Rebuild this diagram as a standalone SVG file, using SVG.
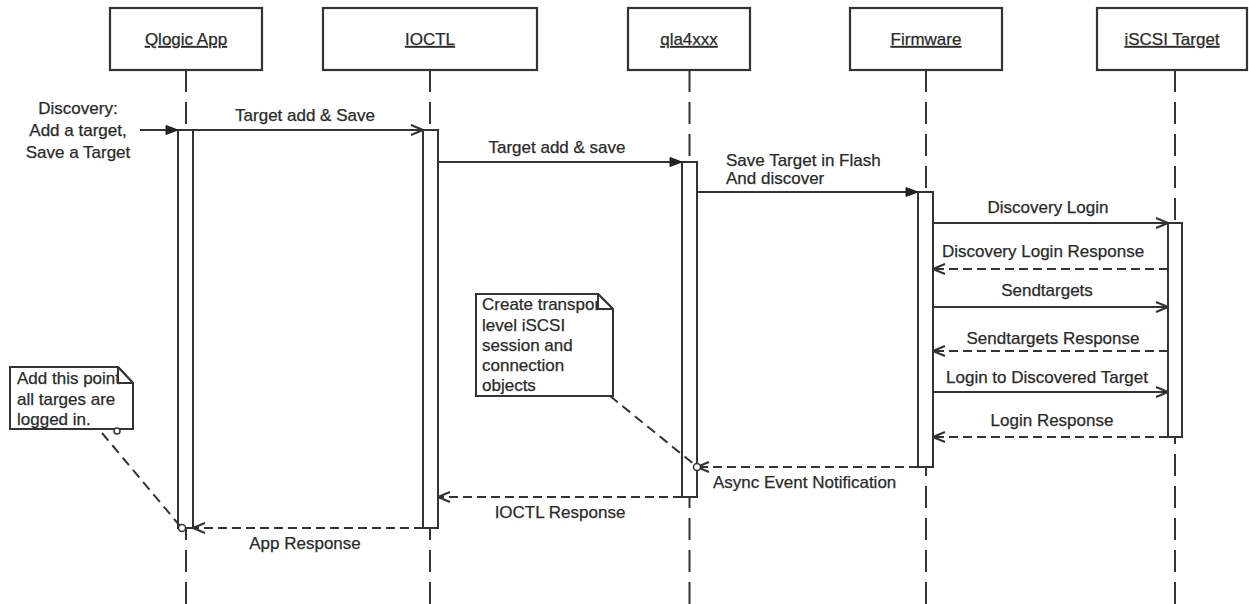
<svg xmlns="http://www.w3.org/2000/svg" width="1249" height="604" viewBox="0 0 1249 604">
<style>
.bg{fill:#ffffff}
.box{fill:#ffffff;stroke:#333;stroke-width:2.2}
.hdr{font-family:"Liberation Sans",Arial,sans-serif;font-size:17px;fill:#2a2a2a;stroke:#2a2a2a;stroke-width:0.25;text-anchor:middle;text-decoration:underline}
.life{stroke:#333;stroke-width:2;stroke-dasharray:22 10;fill:none}
.bar{fill:#ffffff;stroke:#333;stroke-width:2}
.msg{stroke:#333;stroke-width:2;fill:none}
.ret{stroke:#333;stroke-width:2;fill:none;stroke-dasharray:9 5}
.lnk{stroke:#333;stroke-width:2;fill:none;stroke-dasharray:10 6}
.lbl{font-family:"Liberation Sans",Arial,sans-serif;font-size:17px;fill:#2a2a2a;stroke:#2a2a2a;stroke-width:0.25;text-anchor:middle}
.lbll{font-family:"Liberation Sans",Arial,sans-serif;font-size:17px;fill:#2a2a2a;stroke:#2a2a2a;stroke-width:0.25}
.note{fill:#ffffff;stroke:#333;stroke-width:2;stroke-linejoin:miter}
.fold{fill:none;stroke:#333;stroke-width:2}
.dot{fill:#ffffff;stroke:#333;stroke-width:1.5}
</style>
<defs>
<marker id="open" markerWidth="14" markerHeight="12" refX="13" refY="6" orient="auto" markerUnits="userSpaceOnUse">
<path d="M1,1 L13,6 L1,11" fill="none" stroke="#333" stroke-width="2"/>
</marker>
<marker id="fill" markerWidth="14" markerHeight="12" refX="13" refY="6" orient="auto" markerUnits="userSpaceOnUse">
<path d="M1,1.5 L13,6 L1,10.5 Z" fill="#222" stroke="#222" stroke-width="1"/>
</marker>
</defs>
<rect class="bg" x="0" y="0" width="1249" height="604"/>

<g id="lifelines">
<line class="life" x1="186" y1="70" x2="186" y2="604"/>
<line class="life" x1="430" y1="70" x2="430" y2="604"/>
<line class="life" x1="689.5" y1="70" x2="689.5" y2="604"/>
<line class="life" x1="926" y1="70" x2="926" y2="604"/>
<line class="life" x1="1175" y1="70" x2="1175" y2="604"/>
</g>

<g id="qlogic-app">
<rect class="box" x="110" y="8" width="152" height="62"/>
<text class="hdr" x="186" y="45">Qlogic App</text>
<rect class="bar" x="178" y="130" width="15" height="398"/>
</g>
<g id="ioctl">
<rect class="box" x="323" y="8" width="214" height="62"/>
<text class="hdr" x="430" y="45">IOCTL</text>
<rect class="bar" x="423" y="130" width="15" height="398"/>
</g>
<g id="qla4xxx">
<rect class="box" x="628" y="8" width="122" height="62"/>
<text class="hdr" x="689" y="45">qla4xxx</text>
<rect class="bar" x="682" y="162" width="15" height="335"/>
</g>
<g id="firmware">
<rect class="box" x="850" y="8" width="152" height="62"/>
<text class="hdr" x="926" y="45">Firmware</text>
<rect class="bar" x="918" y="192" width="15" height="275"/>
</g>
<g id="iscsi-target">
<rect class="box" x="1097" y="8" width="150" height="62"/>
<text class="hdr" x="1172" y="45">iSCSI Target</text>
<rect class="bar" x="1168" y="223" width="14" height="214"/>
</g>

<g id="connectors">
<line class="msg" x1="140" y1="130" x2="178" y2="130" marker-end="url(#fill)"/>
<line class="msg" x1="193" y1="130" x2="423" y2="130" marker-end="url(#open)"/>
<line class="msg" x1="438" y1="162" x2="682" y2="162" marker-end="url(#fill)"/>
<line class="msg" x1="697" y1="192" x2="918" y2="192" marker-end="url(#fill)"/>
<line class="msg" x1="933" y1="223" x2="1168" y2="223" marker-end="url(#open)"/>
<line class="ret" x1="1168" y1="269" x2="933" y2="269" marker-end="url(#open)"/>
<line class="msg" x1="933" y1="307" x2="1168" y2="307" marker-end="url(#open)"/>
<line class="ret" x1="1168" y1="351" x2="933" y2="351" marker-end="url(#open)"/>
<line class="msg" x1="933" y1="392" x2="1168" y2="392" marker-end="url(#open)"/>
<line class="ret" x1="1168" y1="437" x2="933" y2="437" marker-end="url(#open)"/>
<line class="ret" x1="918" y1="467" x2="697" y2="467" marker-end="url(#open)"/>
<line class="ret" x1="682" y1="497" x2="438" y2="497" marker-end="url(#open)"/>
<line class="ret" x1="423" y1="528" x2="193" y2="528" marker-end="url(#open)"/>
<line class="lnk" x1="610" y1="396" x2="695" y2="465"/>
<line class="lnk" x1="102" y1="433" x2="180" y2="526"/>
<circle class="dot" cx="697" cy="467" r="3.5"/>
<circle class="dot" cx="182" cy="528" r="3.5"/>
</g>

<g id="labels">
<text class="lbl" x="78" y="114">Discovery:</text>
<text class="lbl" x="78" y="136">Add a target,</text>
<text class="lbl" x="78" y="158">Save a Target</text>
<text class="lbl" x="305" y="121">Target add &amp; Save</text>
<text class="lbl" x="557" y="153">Target add &amp; save</text>
<text class="lbll" x="726" y="166">Save Target in Flash</text>
<text class="lbll" x="726" y="184">And discover</text>
<text class="lbl" x="1048" y="213">Discovery Login</text>
<text class="lbl" x="1043" y="257">Discovery Login Response</text>
<text class="lbl" x="1047" y="296">Sendtargets</text>
<text class="lbl" x="1053" y="344">Sendtargets Response</text>
<text class="lbl" x="1047" y="383">Login to Discovered Target</text>
<text class="lbl" x="1052" y="426">Login Response</text>
<text class="lbll" x="713" y="488">Async Event Notification</text>
<text class="lbl" x="560" y="518">IOCTL Response</text>
<text class="lbl" x="305" y="549">App Response</text>
</g>

<g id="note-transport">
<path class="note" d="M476,294 H598 L613,309 V396 H476 Z"/>
<text class="lbll" x="482" y="310">Create transport</text>
<text class="lbll" x="482" y="331">level iSCSI</text>
<text class="lbll" x="482" y="351">session and</text>
<text class="lbll" x="482" y="371">connection</text>
<text class="lbll" x="482" y="391">objects</text>
<path d="M598,294 L613,309 L598,309 Z" fill="#fff" stroke="none"/>
<path class="fold" d="M598,294 V309 H613 M598,294 L613,309"/>
</g>

<g id="note-logged">
<path class="note" d="M10,367 H118 L133,383 V429 H10 Z"/>
<text class="lbll" x="17" y="384">Add this point</text>
<text class="lbll" x="17" y="405">all targes are</text>
<text class="lbll" x="17" y="425">logged in.</text>
<path d="M118,367 L133,383 L118,383 Z" fill="#fff" stroke="none"/>
<path class="fold" d="M118,367 V383 H133 M118,367 L133,383"/>
<circle class="dot" cx="117" cy="431" r="3"/>
</g>
</svg>
